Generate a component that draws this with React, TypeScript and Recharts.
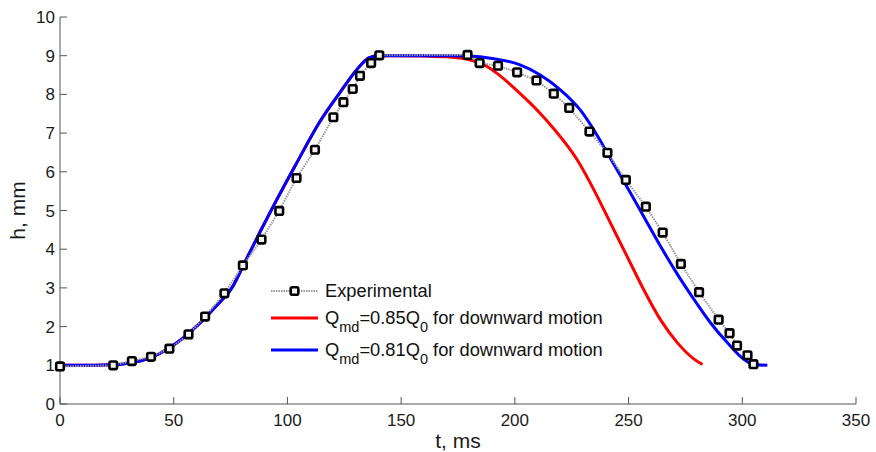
import { LineChart, Line, XAxis, YAxis, Legend } from "recharts";

// experimental points (t in ms, h in mm)
const expT = [0, 23.4, 31.6, 40, 48.1, 56.5, 63.8, 72.3, 80.4, 88.6, 96.4, 104, 112.1, 120.2, 124.6, 128.7, 131.9, 136.8, 140.4, 179.2, 184.5, 192.6, 201, 209.5, 217.1, 223.9, 232.8, 240.7, 248.8, 257.6, 265, 273, 281, 289.6, 294.4, 297.7, 302.3, 304.9];
const expH = [0.97, 1.0, 1.11, 1.22, 1.43, 1.8, 2.26, 2.86, 3.58, 4.25, 4.99, 5.84, 6.57, 7.41, 7.8, 8.14, 8.48, 8.81, 9.01, 9.02, 8.81, 8.74, 8.57, 8.36, 8.02, 7.65, 7.04, 6.49, 5.79, 5.1, 4.43, 3.62, 2.89, 2.18, 1.83, 1.51, 1.26, 1.03];

// Qmd = 0.81 Q0
const blueT = [0, 10, 20, 27, 32, 40, 46.8, 54, 61.5, 69, 76, 82, 88, 93.7, 104, 114.3, 123, 130.5, 136, 140, 150, 170, 180, 190, 202, 211, 220, 229, 234, 242, 249.4, 256.7, 264, 271.5, 278.8, 286, 293.5, 300.8, 305, 311];
const blueH = [1.0, 1.0, 1.01, 1.03, 1.07, 1.2, 1.4, 1.7, 2.09, 2.55, 3.04, 3.75, 4.45, 5.1, 6.22, 7.3, 8.04, 8.64, 8.95, 9.0, 9.0, 9.0, 8.99, 8.93, 8.77, 8.51, 8.12, 7.58, 7.15, 6.35, 5.6, 4.84, 4.08, 3.35, 2.7, 2.1, 1.58, 1.15, 1.02, 1.0];

// Qmd = 0.85 Q0
const redT = [0, 10, 20, 27, 32, 40, 46.8, 54, 61.5, 69, 76, 82, 88, 93.7, 104, 114.3, 123, 130.5, 136, 140, 150, 160, 170, 179, 186, 192, 202, 211, 217, 227.4, 234.7, 242, 249.4, 256.7, 264, 271.5, 278.8, 282.5];
const redH = [1.0, 1.0, 1.01, 1.03, 1.07, 1.2, 1.4, 1.7, 2.09, 2.55, 3.04, 3.75, 4.45, 5.1, 6.22, 7.3, 8.04, 8.64, 8.95, 9.0, 9.0, 8.99, 8.97, 8.91, 8.78, 8.55, 8.04, 7.52, 7.12, 6.31, 5.54, 4.68, 3.81, 2.95, 2.18, 1.58, 1.16, 1.02];

const xTicks = [0, 50, 100, 150, 200, 250, 300, 350];
const yTicks = [0, 1, 2, 3, 4, 5, 6, 7, 8, 9, 10];

const expData = expT.map((t, i) => ({ t, h: expH[i] }));
const blueData = blueT.map((t, i) => ({ t, h: blueH[i] }));
const redData = redT.map((t, i) => ({ t, h: redH[i] }));

const font = "Arial, 'Liberation Sans', sans-serif";

const SquareDot = (props: any) => {
  const { cx, cy, index } = props;
  if (cx == null || cy == null) return <g key={index} />;
  return (
    <rect key={index} x={cx - 3.8} y={cy - 3.8} width={7.6} height={7.6} rx={1.5}
      fill="#f4f4f4" stroke="#000" strokeWidth={2.6} />
  );
};

const QLabel = ({ y, k }: { y: number; k: string }) => (
  <text x={57} y={y} fontSize={18.3} fill="#111" style={{ whiteSpace: "pre" }}>
    <tspan>Q</tspan>
    <tspan dy={8} fontSize={14.5}>md</tspan>
    <tspan dy={-8}>={k}Q</tspan>
    <tspan dy={8} fontSize={14.5}>0</tspan>
    <tspan dy={-8}> for downward motion</tspan>
  </text>
);

const LegendBox = () => (
  <svg width={420} height={100} style={{ fontFamily: font, display: "block", overflow: "visible" }}>
    <line x1={3} x2={50} y1={16} y2={16} stroke="#999" strokeWidth={2} strokeDasharray="1.5 1" />
    <rect x={22.7} y={12.2} width={7.6} height={7.6} rx={1.5} fill="#f4f4f4" stroke="#000" strokeWidth={2.6} />
    <text x={57} y={22} fontSize={18.3} fill="#111">Experimental</text>

    <line x1={3} x2={50} y1={43} y2={43} stroke="#ff0000" strokeWidth={3} />
    <QLabel y={48.5} k="0.85" />

    <line x1={3} x2={50} y1={75} y2={75} stroke="#0000ff" strokeWidth={3} />
    <QLabel y={81} k="0.81" />
  </svg>
);

export default function App() {
  return (
    <div style={{ position: "absolute", left: 0, top: 0, width: 876, height: 452, background: "#fff" }}>
      <LineChart width={876} height={452} margin={{ top: 17, right: 20, bottom: 0, left: 0 }}>
        <XAxis
          type="number"
          dataKey="t"
          domain={[0, 350]}
          ticks={xTicks}
          height={48}
          stroke="#555"
          tickSize={-7}
          tickMargin={17}
          tick={{ fill: "#1a1a1a", fontSize: 17, fontFamily: font }}
          label={{ value: "t, ms", position: "insideBottom", offset: 4, fontSize: 21, fill: "#1a1a1a", fontFamily: font }}
        />
        <YAxis
          type="number"
          dataKey="h"
          domain={[0, 10]}
          ticks={yTicks}
          width={60}
          stroke="#555"
          tickSize={-7}
          tickMargin={12}
          tick={{ fill: "#1a1a1a", fontSize: 17, fontFamily: font }}
          label={({ viewBox }: any) => {
            const cy = viewBox.y + viewBox.height / 2;
            return (
              <text x={25} y={cy} transform={`rotate(-90, 25, ${cy})`} textAnchor="middle"
                fontSize={21} fill="#1a1a1a" fontFamily={font}>h, mm</text>
            );
          }}
        />
        <Legend
          layout="horizontal"
          verticalAlign="middle"
          align="center"
          wrapperStyle={{ left: 268, top: 275, width: 420, height: 100 }}
          content={() => <LegendBox />}
        />
        <Line data={redData} dataKey="h" type="monotone" stroke="#ff0000" strokeWidth={3}
          dot={false} activeDot={false} isAnimationActive={false} />
        <Line data={blueData} dataKey="h" type="monotone" stroke="#0000ff" strokeWidth={3}
          dot={false} activeDot={false} isAnimationActive={false} />
        <Line data={expData} dataKey="h" type="linear" stroke="#999" strokeWidth={2}
          strokeDasharray="1.5 1" dot={SquareDot} activeDot={false} isAnimationActive={false} />
      </LineChart>
    </div>
  );
}
